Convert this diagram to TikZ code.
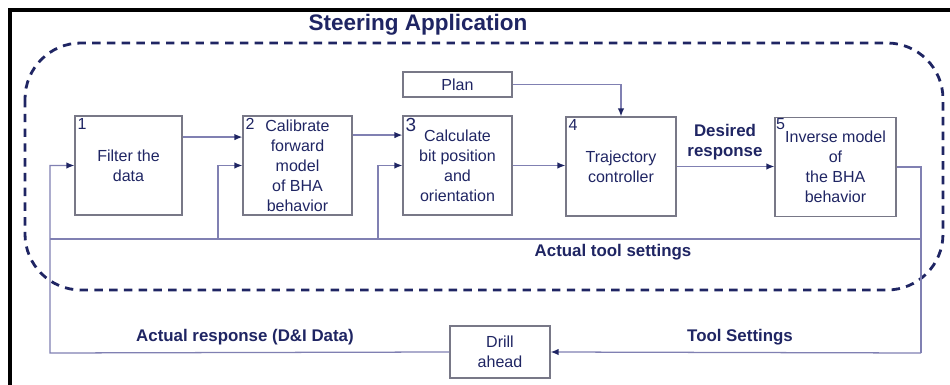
\documentclass[tikz,border=0pt]{standalone}
\usepackage{fontspec}
\setmainfont{Liberation Sans}
\usetikzlibrary{arrows.meta}
\definecolor{navy}{RGB}{31,37,99}
\definecolor{linec}{RGB}{128,128,178}
\definecolor{edgec}{RGB}{120,120,135}

\begin{document}
\begin{tikzpicture}[x=0.025cm,y=-0.025cm,
  block/.style={draw=edgec,line width=0.8pt,align=center,text=navy,inner sep=1pt,
    minimum height=2.475cm,font=\fontsize{11.4}{14.2}\selectfont},
  num/.style={anchor=north west,inner sep=2pt,text=navy,font=\fontsize{11.4}{12}\selectfont},
  lbl/.style={text=navy,align=center,font=\fontsize{12}{14.2}\selectfont\bfseries},
  wire/.style={draw=linec,line width=0.9pt},
  arr/.style={wire,-{Latex[length=2mm,width=1.6mm,color=navy]}}]
  \useasboundingbox (0,0) rectangle (950,385);

  % Frame
  \draw[line width=2.2pt] (10,385) -- (10,10) -- (950,10);

  % Application boundary
  \draw[navy,line width=2pt,dash pattern=on 6pt off 4.5pt,rounded corners=1.4cm]
    (25,43) rectangle (943,290);
  \node[lbl,font=\fontsize{16}{18}\selectfont\bfseries] (title) at (418,25) {Steering Application};

  % Blocks
  \node[block,minimum width=2.675cm] (b1) at (128.5,165.5) {Filter the\\data};
  \node[block,minimum width=2.725cm] (b2) at (297.5,165.5) {Calibrate\\forward\\model\\of BHA\\behavior};
  \node[block,minimum width=2.725cm] (b3) at (457.5,165.5) {Calculate\\bit position\\and\\orientation};
  \node[block,minimum width=2.75cm] (b4) at (621,166.5) {Trajectory\\controller};
  \node[block,minimum width=3.025cm] (b5) at (835.5,167) {Inverse model\\of\\the BHA\\behavior};
  \node[block,minimum width=2.725cm,minimum height=0.625cm] (plan) at (457.5,84.5) {Plan};
  \node[block,minimum width=2.5cm,minimum height=1.3cm] (drill) at (500,352) {Drill\\ahead};

  % Block numbers
  \node[num] (n1) at (b1.north west) {1};
  \node[num] (n2) at (b2.north west) {2};
  \node[num,font=\fontsize{13.5}{14}\selectfont] (n3) at (b3.north west) {3};
  \node[num] (n4) at (b4.north west) {4};
  \node[num,inner sep=1pt] (n5) at (b5.north west) {5};

  % Loop points
  \coordinate (fbR) at (921,239);
  \coordinate (fbL) at (50,239);
  \coordinate (tap2) at (218,239);
  \coordinate (tap3) at (378,239);
  \coordinate (botR) at (921,353);
  \coordinate (botL) at (50,353);

  % Forward path
  \draw[arr] ([yshift=0.71cm]b1.east) -- ([yshift=0.71cm]b2.west);
  \draw[arr] ([yshift=0.76cm]b2.east) -- ([yshift=0.76cm]b3.west);
  \draw[arr] (b3.east) -- (b3.east -| b4.west);
  \draw[arr] (b4.east) -- (b4.east -| b5.west);
  \draw[arr] (plan.east) -| (b4.north);

  % Feedback
  \draw[wire] (b5.east) -| (botR);
  \draw[arr] (botR) -- (drill.east);
  \draw[wire] (fbR) -- (fbL);
  \draw[arr] (drill.west) -- (botL) |- (b1.west);
  \draw[arr] (tap2) |- (b2.west);
  \draw[arr] (tap3) |- (b3.west);

  % Signal labels
  \node[lbl] (desired) at (725,142) {Desired\\response};
  \node[lbl] (acttool) at (613,252) {Actual tool settings};
  \node[lbl] (actresp) at (245,337) {Actual response (D\&I Data)};
  \node[lbl] (toolset) at (740,337) {Tool Settings};
\end{tikzpicture}
\end{document}
